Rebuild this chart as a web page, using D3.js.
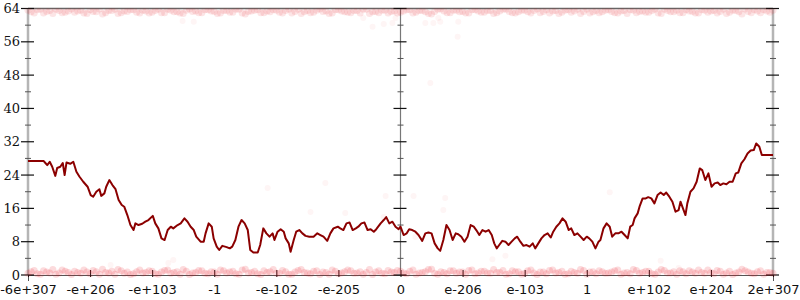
<!DOCTYPE html>
<html>
<head>
<meta charset="utf-8">
<script src="https://cdn.jsdelivr.net/npm/d3@7"></script>
<style>
  body { margin: 0; background: #fff; }
</style>
</head>
<body>
<svg id="chart" width="800" height="300"></svg>
<script>
// tick labels of the x axis (one per unit position -6..6)
var xTickLabels = ["-6e+307", "-e+206", "-e+103", "-1", "-e-102", "-e-205", "0",
                   "e-206", "e-103", "1", "e+102", "e+204", "2e+307"];
var yMajor = [0, 8, 16, 24, 32, 40, 48, 56, 64];
var yMinor = [4, 12, 20, 28, 36, 44, 52, 60];

// main line, x in axis units
var lineX = [-6, -5.75, -5.72, -5.69, -5.65, -5.61, -5.56, -5.53, -5.48, -5.44,
  -5.41, -5.38, -5.32, -5.27, -5.22, -5.17, -5.11, -5.04, -4.99, -4.95,
  -4.90, -4.85, -4.82, -4.77, -4.74, -4.69, -4.64, -4.59, -4.54, -4.49,
  -4.45, -4.40, -4.35, -4.30, -4.27, -4.22, -4.16, -4.11, -4.06, -3.99,
  -3.95, -3.90, -3.85, -3.80, -3.75, -3.70, -3.66, -3.59, -3.54, -3.48,
  -3.43, -3.38, -3.33, -3.29, -3.22, -3.17, -3.14, -3.09, -3.04, -3.01,
  -2.96, -2.92, -2.87, -2.80, -2.75, -2.71, -2.66, -2.61, -2.56, -2.51,
  -2.46, -2.42, -2.37, -2.30, -2.26, -2.21, -2.16, -2.11, -2.06, -2.03,
  -1.98, -1.93, -1.88, -1.85, -1.80, -1.77, -1.72, -1.68, -1.63, -1.58,
  -1.53, -1.47, -1.40, -1.34, -1.29, -1.24, -1.18, -1.13, -1.08, -1.01,
  -0.97, -0.92, -0.87, -0.82, -0.77, -0.72, -0.68, -0.63, -0.58, -0.53,
  -0.48, -0.43, -0.39, -0.32, -0.27, -0.23, -0.18, -0.13, -0.08, -0.03, 0,
  0.05, 0.10, 0.14, 0.19, 0.24, 0.29, 0.35, 0.40, 0.45, 0.50,
  0.55, 0.60, 0.64, 0.69, 0.74, 0.79, 0.84, 0.89, 0.93, 0.98,
  1.03, 1.08, 1.13, 1.18, 1.22, 1.27, 1.32, 1.37, 1.42, 1.47,
  1.51, 1.55, 1.59, 1.64, 1.69, 1.74, 1.79, 1.84, 1.88, 1.93,
  1.98, 2.03, 2.08, 2.13, 2.17, 2.22, 2.27, 2.32, 2.37, 2.42,
  2.46, 2.51, 2.56, 2.61, 2.66, 2.71, 2.75, 2.80, 2.85, 2.90,
  2.95, 3.00, 3.04, 3.09, 3.14, 3.19,
  3.22, 3.27, 3.32, 3.37, 3.41, 3.46, 3.51, 3.56, 3.61, 3.66,
  3.70, 3.74, 3.77, 3.82, 3.85, 3.90, 3.95, 3.99, 4.04, 4.09,
  4.14, 4.19, 4.24, 4.28, 4.33, 4.38, 4.43, 4.48, 4.51, 4.56,
  4.59, 4.62, 4.67, 4.72, 4.77, 4.82, 4.86, 4.91, 4.96, 5.01,
  5.06, 5.11, 5.15, 5.20, 5.25, 5.30, 5.35, 5.40, 5.44, 5.49,
  5.54, 5.59, 5.64, 5.69, 5.73, 5.78, 5.82, 6];
var lineY = [27.4, 27.4, 26.9, 26.4, 27.2, 26.0, 23.8, 25.7, 26.0, 26.9,
  24.0, 27.0, 26.7, 27.2, 24.8, 23.6, 22.4, 21.2, 19.2, 18.8,
  20.0, 20.6, 19.0, 19.6, 21.2, 22.8, 21.6, 20.6, 18.0, 16.8,
  16.4, 14.4, 12.0, 10.8, 12.4, 12.0, 12.3, 12.8, 13.2, 14.2,
  12.4, 11.2, 8.8, 8.4, 10.8, 11.6, 11.2, 12.0, 12.4, 13.6,
  12.8, 11.6, 10.8, 9.2, 8.0, 8.0, 10.0, 12.4, 11.6, 8.8,
  6.8, 6.0, 7.0, 6.7, 6.4, 6.8, 8.4, 11.6, 13.2, 12.4,
  10.8, 6.0, 5.4, 5.4, 7.2, 11.2, 10.0, 9.2, 10.0, 8.4,
  10.4, 11.0, 10.4, 8.8, 7.6, 5.6, 8.4, 10.4, 10.8, 10.0,
  9.4, 9.2, 9.2, 10.0, 9.6, 9.2, 8.2, 10.0, 11.2, 11.6,
  11.2, 10.8, 12.4, 12.6, 10.8, 11.2, 11.6, 12.4, 12.6, 10.8,
  11.0, 10.4, 11.0, 12.4, 13.2, 13.9, 12.4, 12.8, 11.6, 11.0, 11.6,
  9.6, 10.0, 11.0, 10.8, 10.4, 9.6, 8.2, 10.0, 10.2, 10.0,
  7.6, 6.4, 5.8, 8.4, 12.0, 10.8, 8.4, 10.0, 9.8, 9.2,
  8.0, 9.2, 12.0, 11.6, 10.8, 9.6, 10.8, 10.4, 10.8, 9.6,
  7.6, 6.4, 7.2, 8.2, 8.0, 7.2, 8.0, 8.8, 9.2, 8.0,
  7.0, 7.2, 6.8, 7.6, 6.4, 7.6, 8.8, 9.6, 10.0, 9.0,
  10.4, 11.6, 12.4, 13.6, 12.8, 10.8, 11.2, 9.6, 10.0, 9.2,
  8.4, 9.2, 8.8, 8.0, 6.4, 8.0,
  8.4, 11.2, 12.4, 11.6, 9.2, 10.0, 10.0, 10.4, 9.6, 8.8,
  11.6, 12.0, 13.6, 14.8, 16.4, 18.4, 18.4, 18.7, 18.4, 17.2,
  19.2, 19.8, 19.2, 19.8, 18.8, 17.6, 15.2, 15.6, 17.6, 15.6,
  14.4, 17.2, 20.0, 20.8, 22.4, 25.6, 25.2, 22.8, 24.4, 21.2,
  22.0, 22.2, 21.6, 22.0, 21.8, 22.4, 22.4, 24.4, 24.6, 26.8,
  27.8, 29.2, 29.9, 30.0, 31.6, 30.8, 28.8, 28.8];

// faint sample points hugging 0 and 64, one every 0.1 axis unit from -6 to 6
var lowBand = [0.4, 1.1, 0.2, 0.7, 1.3, 0.5, 0.9, 0.1, 0.6, 1.2, 0.3, 0.8, 1.4, 0.5, 0.2, 1.0, 0.7, 0.3, 1.2, 0.6,
  0.9, 0.2, 1.1, 0.4, 0.8, 1.3, 0.1, 0.6, 1.0, 0.3, 0.7, 1.2, 0.5, 0.9, 0.2, 1.4, 0.6, 0.3, 1.0, 0.8,
  0.4, 1.1, 0.2, 0.7, 1.3, 0.5, 0.9, 0.1, 0.6, 1.2, 0.3, 0.8, 1.0, 0.5, 0.2, 1.3, 0.7, 0.4, 1.1, 0.6,
  0.9, 0.3, 1.2, 0.5, 0.8, 1.4, 0.2, 0.6, 1.0, 0.4, 0.7, 1.1, 0.3, 0.9, 0.5, 1.3, 0.6, 0.2, 1.0, 0.8,
  0.4, 1.2, 0.1, 0.7, 1.1, 0.5, 0.9, 0.3, 0.6, 1.3, 0.2, 0.8, 1.0, 0.4, 0.7, 1.2, 0.5, 0.3, 1.1, 0.6,
  0.9, 0.2, 1.3, 0.5, 0.8, 1.0, 0.3, 0.7, 1.2, 0.4, 0.6, 1.1, 0.2, 0.9, 0.5, 1.4, 0.7, 0.3, 1.0, 0.6, 0.4];
var highBand = [63.6, 62.9, 63.8, 63.3, 62.8, 63.5, 63.1, 63.9, 63.4, 62.9, 63.7, 63.2, 62.7, 63.5, 63.8, 63.0, 63.3, 63.7, 62.9, 63.4,
  63.1, 63.8, 63.0, 63.6, 63.2, 62.8, 63.9, 63.4, 63.0, 63.7, 63.3, 62.9, 63.5, 63.1, 63.8, 62.7, 63.4, 63.7, 63.0, 63.2,
  63.6, 62.9, 63.8, 63.3, 62.8, 63.5, 63.1, 63.9, 63.4, 62.9, 63.7, 63.2, 63.0, 63.5, 63.8, 62.8, 63.3, 63.6, 62.9, 63.4,
  63.1, 63.7, 62.9, 63.5, 63.2, 62.7, 63.8, 63.4, 63.0, 63.6, 63.3, 62.9, 63.7, 63.1, 63.5, 62.8, 63.4, 63.8, 63.0, 63.2,
  63.6, 62.9, 63.9, 63.3, 62.9, 63.5, 63.1, 63.7, 63.4, 62.8, 63.8, 63.2, 63.0, 63.6, 63.3, 62.9, 63.5, 63.7, 63.0, 63.4,
  63.1, 63.8, 62.8, 63.5, 63.2, 63.0, 63.7, 63.3, 62.9, 63.6, 63.4, 62.9, 63.8, 63.1, 63.5, 62.7, 63.3, 63.7, 63.0, 63.4, 63.6];
// second row of the same bands, offset by half a step (-5.95 .. 5.95)
var lowBand2 = [0.8, 0.3, 1.0, 0.5, 0.2, 1.2, 0.6, 0.9, 0.4, 0.7, 1.1, 0.2, 0.6, 0.9, 1.3, 0.4, 0.1, 0.8, 0.5, 1.0,
  0.3, 0.7, 1.2, 0.6, 0.2, 0.9, 0.5, 1.1, 0.4, 0.8, 0.2, 1.0, 0.7, 0.3, 1.2, 0.5, 0.9, 0.1, 0.6, 1.3,
  0.4, 0.8, 0.2, 1.1, 0.6, 0.3, 1.0, 0.7, 0.2, 0.9, 0.5, 1.2, 0.4, 0.8, 0.6, 0.1, 1.0, 0.3, 0.7, 1.1,
  0.5, 0.9, 0.2, 0.6, 1.3, 0.4, 0.8, 0.3, 1.0, 0.7, 0.2, 1.2, 0.5, 0.9, 0.4, 0.6, 1.1, 0.3, 0.8, 0.2,
  1.0, 0.5, 0.7, 0.3, 1.2, 0.6, 0.2, 0.9, 0.4, 1.1, 0.7, 0.3, 0.8, 0.5, 1.0, 0.2, 0.6, 1.3, 0.4, 0.9,
  0.3, 0.7, 1.1, 0.5, 0.2, 0.8, 1.0, 0.4, 0.6, 1.2, 0.3, 0.9, 0.5, 0.1, 0.7, 1.0, 0.4, 0.8, 0.2, 0.6];
var highBand2 = [63.2, 63.7, 62.9, 63.5, 63.8, 63.0, 63.4, 63.1, 63.6, 62.8, 63.3, 63.9, 63.0, 63.5, 62.8, 63.4, 63.7, 63.1, 63.6, 62.9,
  63.5, 63.0, 63.8, 63.2, 62.9, 63.6, 63.3, 63.0, 63.7, 63.4, 62.8, 63.5, 63.1, 63.8, 62.9, 63.3, 63.6, 63.0, 63.4, 63.7,
  63.1, 63.5, 62.9, 63.8, 63.2, 63.0, 63.6, 63.3, 62.8, 63.7, 63.4, 63.1, 63.5, 62.9, 63.8, 63.2, 63.0, 63.6, 63.3, 62.9,
  63.4, 63.7, 63.1, 63.5, 62.8, 63.3, 63.9, 63.0, 63.6, 63.2, 62.9, 63.7, 63.4, 63.1, 63.5, 63.0, 63.8, 63.3, 62.9, 63.6,
  63.2, 63.5, 63.0, 63.7, 63.4, 62.8, 63.6, 63.1, 63.8, 63.3, 62.9, 63.5, 63.2, 63.7, 63.0, 63.4, 62.8, 63.6, 63.3, 63.1,
  63.5, 62.9, 63.8, 63.2, 63.6, 63.0, 63.4, 62.9, 63.7, 63.1, 63.5, 63.3, 62.8, 63.6, 63.2, 63.9, 63.0, 63.4, 63.7, 63.1];

// a few stray points away from the bands
var strayX = [-2.14, -1.21, -0.24, -1.45, -0.89, -0.27, 0.21, 0.72, 0.69, 0.24, 1.48, 1.69,
  -0.45, -0.27, -0.13, -0.08, -0.60, 0.40, 0.53, 0.64, 0.61, 0.93, 0.92, 0.48,
  -3.51, -3.33, -3.66, -3.74, -4.67, 4.19, 4.48, 3.37];
var strayY = [20.9, 22.1, 19.0, 15.1, 14.9, 13.9, 19.0, 18.5, 15.6, 9.1, 3.8, 4.6,
  59.6, 60.3, 60.5, 61.7, 61.7, 60.5, 60.5, 60.8, 61.7, 60.8, 57.2, 46.1,
  61.0, 60.8, 3.6, 2.9, 2.4, 3.4, 1.7, 19.9];

var svg = d3.select("#chart");
var x = d3.scaleLinear().domain([-6, 6]).range([28, 773]);
var y = d3.scaleLinear().domain([0, 64]).range([275, 8.5]);

svg.append("clipPath").attr("id", "plotclip")
  .append("rect").attr("x", 20).attr("y", y(64)).attr("width", 760).attr("height", 275);

// bottom axis
var xAxis = svg.append("g")
  .attr("transform", "translate(0," + y(0) + ")")
  .call(d3.axisBottom(x).tickValues(d3.range(-6, 7)).tickFormat(function(d, i) { return xTickLabels[i]; }));
xAxis.select(".domain").attr("stroke", "#555").attr("stroke-width", 1);
xAxis.selectAll(".tick line").attr("y1", -5).attr("y2", 2).attr("stroke", "#111");
xAxis.selectAll(".tick text").attr("y", 10)
  .style("font-family", "DejaVu Sans").style("font-size", "13px").attr("fill", "#111");

// top border
svg.append("line")
  .attr("x1", x(-6)).attr("x2", x(6)).attr("y1", y(64)).attr("y2", y(64))
  .attr("stroke", "#666").attr("stroke-width", 1.5);

// vertical axes: left (labelled), centre and right
function vAxis(pos, labels, lineColor, lineWidth) {
  var g = svg.append("g").attr("transform", "translate(" + x(pos) + ",0)");
  g.append("line").attr("y1", y(0)).attr("y2", y(64))
    .attr("stroke", lineColor).attr("stroke-width", lineWidth);
  g.selectAll(".minor").data(yMinor).enter().append("line")
    .attr("x1", -3).attr("x2", 3)
    .attr("y1", function(d) { return y(d); }).attr("y2", function(d) { return y(d); })
    .attr("stroke", "#555").attr("stroke-width", 1);
  g.selectAll(".major").data(yMajor).enter().append("line")
    .attr("x1", -7).attr("x2", 6)
    .attr("y1", function(d) { return y(d); }).attr("y2", function(d) { return y(d); })
    .attr("stroke", "#111").attr("stroke-width", 1.2);
  if (labels) {
    g.selectAll("text").data(yMajor).enter().append("text")
      .attr("x", -8).attr("y", function(d) { return y(d); }).attr("dy", "0.35em")
      .attr("text-anchor", "end")
      .style("font-family", "DejaVu Serif").style("font-size", "13px").attr("fill", "#111")
      .text(function(d) { return d; });
  }
}
vAxis(-6, true, "#b5b5b5", 2.5);
vAxis(0, false, "#777", 1.2);
vAxis(6, false, "#b5b5b5", 2.5);

// faint points
var pts = svg.append("g").attr("clip-path", "url(#plotclip)");
var bandX = d3.range(lowBand.length).map(function(i) { return -6 + i * 0.1; });
var bandX2 = d3.range(lowBand2.length).map(function(i) { return -5.95 + i * 0.1; });
function band(vals, xs, op) {
  pts.append("g").selectAll("circle").data(vals).enter().append("circle")
    .attr("cx", function(d, i) { return x(xs[i]); }).attr("cy", function(d) { return y(d); })
    .attr("r", 3.5).attr("fill", "#e8101a").attr("fill-opacity", op);
}
band(lowBand, bandX, 0.15);
band(lowBand2, bandX2, 0.15);
band(highBand, bandX, 0.11);
band(highBand2, bandX2, 0.11);
pts.selectAll(".stray").data(strayY).enter().append("circle")
  .attr("cx", function(d, i) { return x(strayX[i]); }).attr("cy", function(d) { return y(d); })
  .attr("r", 3).attr("fill", "#e8101a").attr("fill-opacity", 0.045);

// main line
var line = d3.line()
  .x(function(d, i) { return x(lineX[i]); })
  .y(function(d) { return y(d); });
svg.append("path").datum(lineY)
  .attr("d", line)
  .attr("fill", "none")
  .attr("stroke", "#8b0000")
  .attr("stroke-width", 2)
  .attr("stroke-linejoin", "round");
</script>
</body>
</html>
